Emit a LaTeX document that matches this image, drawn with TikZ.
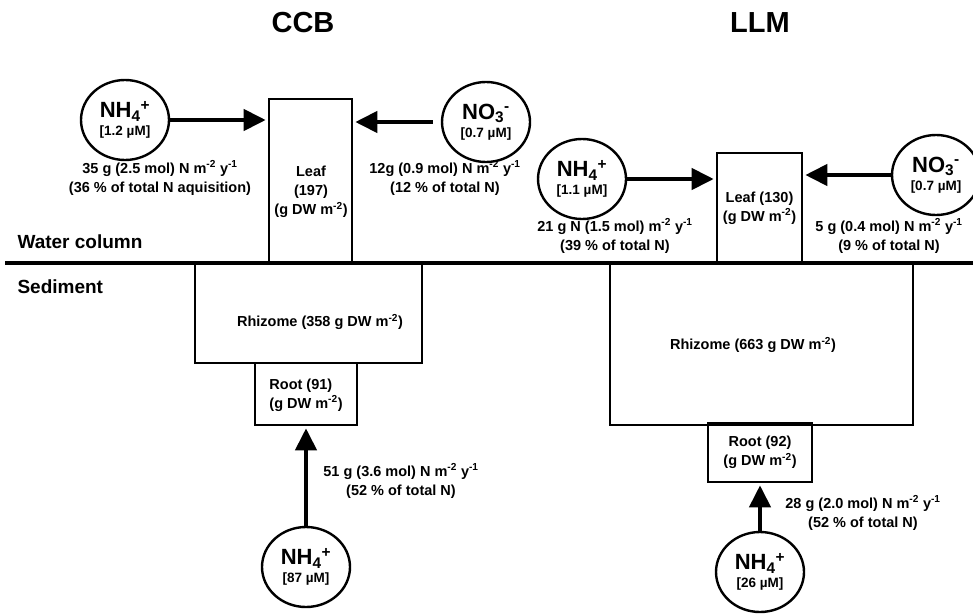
\documentclass[tikz,border=0pt]{standalone}
\usepackage{fontspec}
\setmainfont{Liberation Sans}
\usetikzlibrary{arrows.meta,calc,positioning,shapes.geometric}
\newcommand\fluxfont{\fontsize{14.5}{19}\selectfont\bfseries}
\newcommand\ionfont{\fontsize{22}{22}\selectfont\bfseries}
\newcommand\concfont{\fontsize{13.5}{15}\selectfont\bfseries}
\newcommand\sitefont{\fontsize{29}{30}\selectfont\bfseries}
\newcommand\zonefont{\fontsize{19}{20}\selectfont\bfseries}
\newcommand\ion[4]{{\ionfont #1\textsubscript{#2}\textsuperscript{#3}}\\[3pt]{\concfont[#4]}}
\tikzset{
  pool/.style={
    ellipse, draw, line width=2.4pt, minimum width=88pt, minimum height=80pt,
    inner sep=0pt, align=center, font=\concfont
  },
  tissue/.style={draw, line width=2.6pt, inner sep=0pt, align=center, font=\fluxfont},
  flux/.style={font=\fluxfont, align=center},
  site/.style={font=\sitefont},
  zone/.style={font=\zonefont, anchor=west},
  uptake/.style={-{Triangle[length=22pt,width=21pt]}, line width=4.2pt, shorten >=2pt},
  surface/.style={line width=4pt}
}

\begin{document}
\begin{tikzpicture}[x=1pt,y=-1pt]
    \path[use as bounding box,fill=white] (0,0) rectangle (973,613);
    \clip (0,0) rectangle (973,613);
    \node[site] (ccbsite) at (303,23) {CCB};
    \node[site] (llmsite) at (760,23) {LLM};
    \node[zone] (water) at (14,242) {Water column};
    \node[zone] (sediment) at (14,287) {Sediment};
    \coordinate (shoreW) at (5,263);
    \coordinate (shoreE) at (973,263);
    % CCB
    \node[tissue,minimum width=83pt,minimum height=164pt] (ccbleaf) at (310.5,181) {};
    \node[flux] (ccbleaftxt) at (311,192) {Leaf\\(197)\\(g DW m\textsuperscript{-2})};
    \node[tissue,minimum width=227pt,minimum height=100pt] (ccbrhizome) at (308.5,313) {};
    \node[flux] (ccbrhizometxt) at (320,322) {Rhizome (358 g DW m\textsuperscript{-2})};
    \node[tissue,minimum width=102pt,minimum height=62pt] (ccbroot) at (306,394) {};
    \node[flux,align=left] (ccbroottxt) at (306,395) {Root (91)\\(g DW m\textsuperscript{-2})};
    \node[pool] (ccbnh) at (125,120) {\ion{NH}{4}{+}{1.2 µM}};
    \node[pool] (ccbno) at (486,122) {\ion{NO}{3}{-}{0.7 µM}};
    \node[pool] (ccbsed) at (306,567) {\ion{NH}{4}{+}{87 µM}};
    \draw[uptake] (ccbnh) -- (ccbleaf.west |- ccbnh);
    \draw[uptake,shorten <=8pt] (ccbno) -- (ccbleaf.east |- ccbno);
    \draw[uptake] (ccbsed) -- (ccbroot);
    \node[flux] (ccbnhflux) at (160,178) {35 g (2.5 mol) N m\textsuperscript{-2} y\textsuperscript{-1}\\(36 \% of total N aquisition)};
    \node[flux] (ccbnoflux) at (445,178) {12g (0.9 mol) N m\textsuperscript{-2} y\textsuperscript{-1}\\(12 \% of total N)};
    \node[flux] (ccbsedflux) at (401,481) {51 g (3.6 mol) N m\textsuperscript{-2} y\textsuperscript{-1}\\(52 \% of total N)};
    % LLM
    \node[tissue,minimum width=85pt,minimum height=110pt] (llmleaf) at (759.5,208) {Leaf (130)\\(g DW m\textsuperscript{-2})};
    \node[tissue,minimum width=303pt,minimum height=162pt] (llmrhizome) at (761.5,344) {};
    \node[flux] (llmrhizometxt) at (753,345) {Rhizome (663 g DW m\textsuperscript{-2})};
    \node[tissue,minimum width=104pt,minimum height=59pt] (llmroot) at (760,452.5) {Root (92)\\(g DW m\textsuperscript{-2})};
    \node[pool] (llmnh) at (582,179) {\ion{NH}{4}{+}{1.1 µM}};
    \node[pool] (llmno) at (936,175) {\ion{NO}{3}{-}{0.7 µM}};
    \node[pool] (llmsed) at (760,572) {\ion{NH}{4}{+}{26 µM}};
    \draw[uptake] (llmnh) -- (llmleaf.west |- llmnh);
    \draw[uptake] (llmno) -- (llmleaf.east |- llmno);
    \draw[uptake] (llmsed) -- (llmroot);
    \node[flux] (llmnhflux) at (615,236) {21 g N (1.5 mol) m\textsuperscript{-2} y\textsuperscript{-1}\\(39 \% of total N)};
    \node[flux] (llmnoflux) at (889,236) {5 g (0.4 mol) N m\textsuperscript{-2} y\textsuperscript{-1}\\(9 \% of total N)};
    \node[flux] (llmsedflux) at (863,513) {28 g (2.0 mol) N m\textsuperscript{-2} y\textsuperscript{-1}\\(52 \% of total N)};
    \draw[surface] (shoreW) -- (shoreE);
  \end{tikzpicture}
\end{document}
